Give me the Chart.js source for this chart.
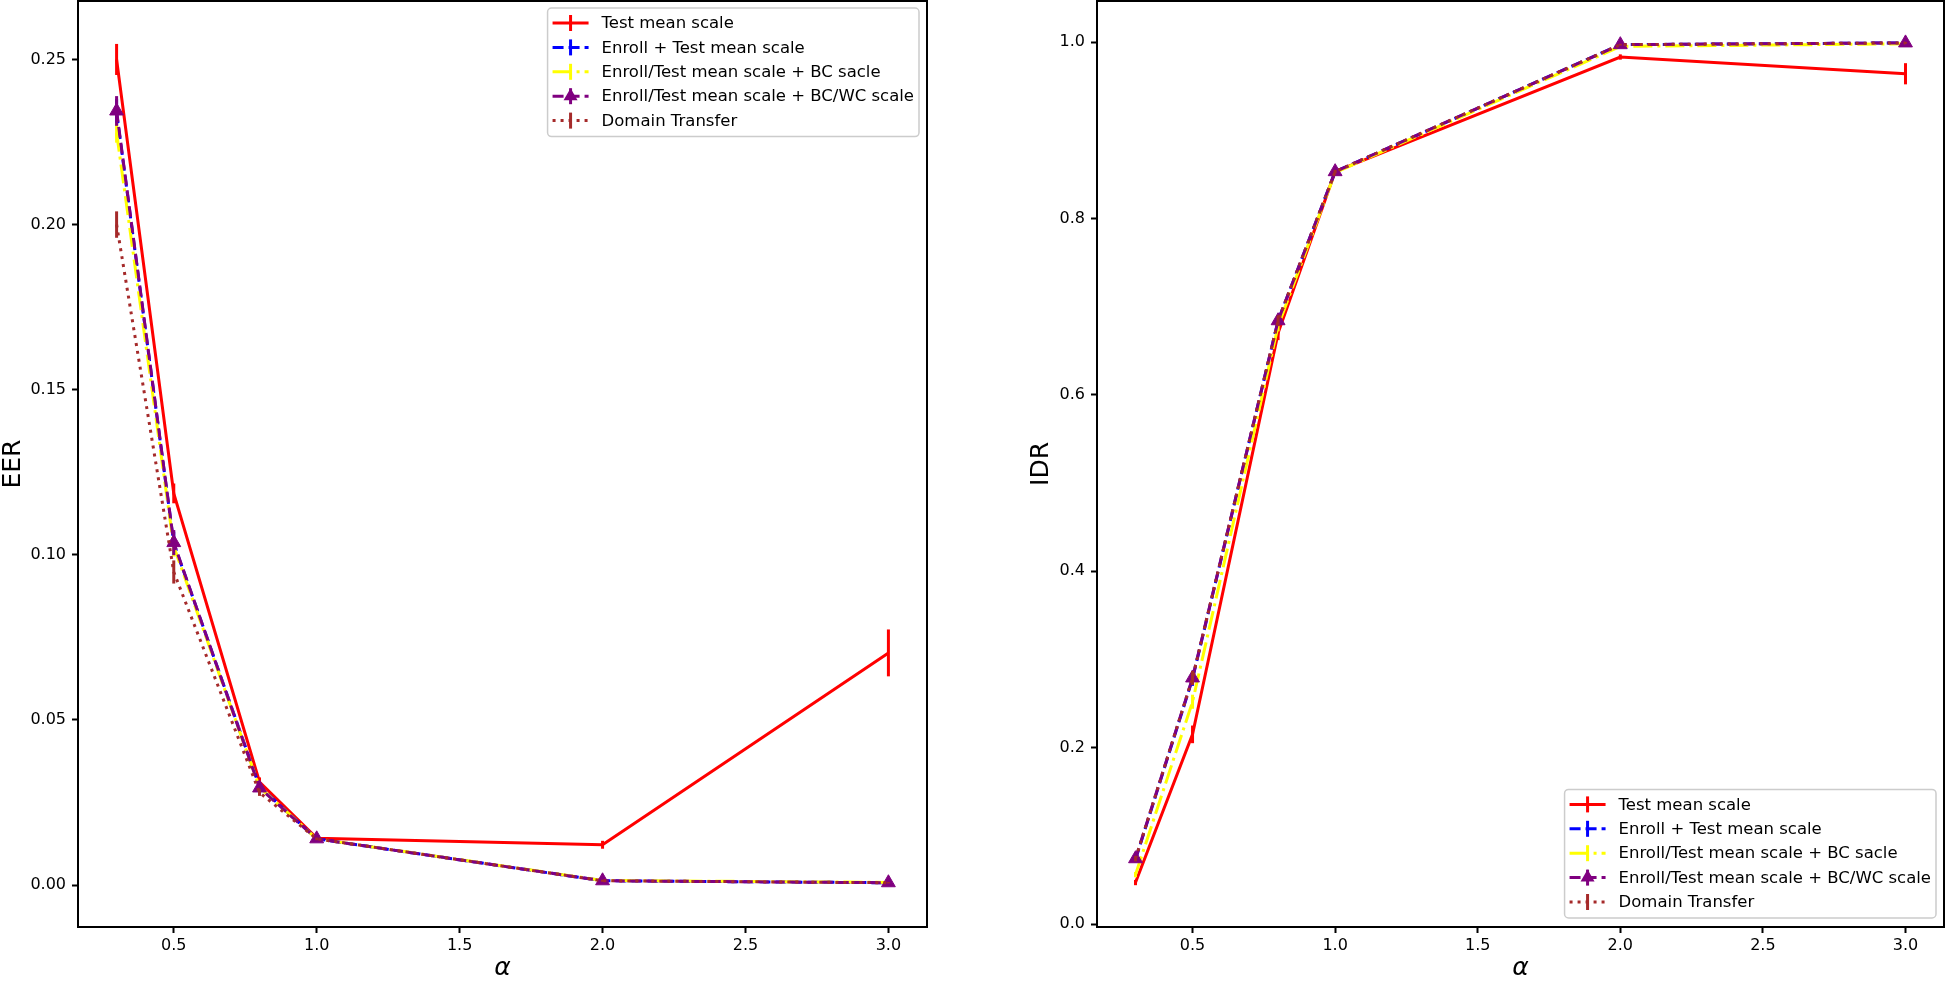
<!DOCTYPE html>
<html>
<head>
    <title>EER and IDR versus alpha</title>
    <script src="https://cdn.jsdelivr.net/npm/chart.js"></script>
    <style>
        body { margin: 0; background: #fff; width: 1946px; height: 981px; overflow: hidden; position: relative; }
        .box { position: absolute; top: 0; height: 981px; }
        #leftBox { left: 0; width: 940px; }
        #rightBox { left: 1028px; width: 918px; }
    </style>
</head>
<body>
    <div class="box" id="leftBox"><canvas id="eerChart"></canvas></div>
    <div class="box" id="rightBox"><canvas id="idrChart"></canvas></div>

    <script>
        // x values (alpha) and tick positions
        var alphaValues = [0.3, 0.5, 0.8, 1.0, 2.0, 3.0];
        var alphaTicks = [0.5, 1.0, 1.5, 2.0, 2.5, 3.0];
        var eerTicks = [0.00, 0.05, 0.10, 0.15, 0.20, 0.25];
        var idrTicks = [0.0, 0.2, 0.4, 0.6, 0.8, 1.0];

        var seriesNames = [
            'Test mean scale',
            'Enroll + Test mean scale',
            'Enroll/Test mean scale + BC sacle',
            'Enroll/Test mean scale + BC/WC scale',
            'Domain Transfer'
        ];

        // EER (left plot), values and error bar half heights
        var eerTestMean = [0.2500, 0.1186, 0.0312, 0.0142, 0.0122, 0.0703];
        var eerTestMeanErr = [0.0047, 0.0030, 0.0014, 0.0005, 0.0012, 0.0071];
        var eerEnrollTest = [0.2340, 0.1035, 0.0298, 0.0140, 0.0013, 0.0007];
        var eerEnrollTestErr = [0.0040, 0.0035, 0.0010, 0.0004, 0.0003, 0.0002];
        var eerBc = [0.2278, 0.1025, 0.0296, 0.0140, 0.0014, 0.0008];
        var eerBcErr = [0.0030, 0.0030, 0.0010, 0.0004, 0.0003, 0.0002];
        var eerBcWc = [0.2344, 0.1037, 0.0294, 0.0140, 0.0013, 0.0007];
        var eerBcWcErr = [0.0045, 0.0038, 0.0010, 0.0004, 0.0003, 0.0002];
        var eerDomain = [0.2000, 0.0948, 0.0280, 0.0140, 0.0013, 0.0007];
        var eerDomainErr = [0.0040, 0.0035, 0.0010, 0.0004, 0.0003, 0.0002];

        // IDR (right plot)
        var idrTestMean = [0.047, 0.215, 0.670, 0.853, 0.983, 0.964];
        var idrTestMeanErr = [0.003, 0.010, 0.008, 0.002, 0.003, 0.012];
        var idrEnrollTest = [0.073, 0.278, 0.684, 0.853, 0.997, 0.999];
        var idrEnrollTestErr = [0.003, 0.008, 0.006, 0.002, 0.001, 0.001];
        var idrBc = [0.056, 0.252, 0.678, 0.852, 0.995, 0.998];
        var idrBcErr = [0.003, 0.008, 0.006, 0.002, 0.001, 0.001];
        var idrBcWc = [0.074, 0.279, 0.684, 0.853, 0.997, 0.999];
        var idrBcWcErr = [0.003, 0.008, 0.006, 0.002, 0.001, 0.001];
        var idrDomain = [0.074, 0.279, 0.684, 0.853, 0.997, 0.999];
        var idrDomainErr = [0.003, 0.008, 0.006, 0.002, 0.001, 0.001];

        var colors = ['#ff0000', '#0000ff', '#ffff00', '#800080', '#a52a2a'];
        var dashes = [[], [11, 5], [19, 5, 3, 5], [11, 5], [3, 5]];
        var FONT = "'DejaVu Sans', sans-serif";

        function makeDatasets(valueLists, errLists) {
            return valueLists.map(function(vals, k) {
                return {
                    label: seriesNames[k],
                    data: vals.map(function(v, i) { return {x: alphaValues[i], y: v}; }),
                    errors: errLists[k],
                    borderColor: colors[k],
                    backgroundColor: colors[k],
                    borderWidth: 3,
                    borderDash: dashes[k],
                    borderCapStyle: 'butt',
                    tension: 0,
                    fill: false,
                    pointStyle: k === 3 ? 'triangle' : 'circle',
                    pointRadius: k === 3 ? 8 : 0,
                    pointBorderWidth: 1,
                    order: 5 - k
                };
            });
        }

        // vertical error bars, drawn under each line
        var errorBars = {
            id: 'errorBars',
            beforeDatasetDraw: function(chart, args) {
                var ds = chart.data.datasets[args.index];
                if (!ds.errors) return;
                var ctx = chart.ctx, yScale = chart.scales.y, area = chart.chartArea;
                ctx.save();
                ctx.beginPath();
                ctx.rect(area.left, area.top, area.right - area.left, area.bottom - area.top);
                ctx.clip();
                ctx.strokeStyle = ds.borderColor;
                ctx.lineWidth = 3;
                ctx.setLineDash([]);
                args.meta.data.forEach(function(pt, i) {
                    var v = ds.data[i].y, e = ds.errors[i];
                    ctx.beginPath();
                    ctx.moveTo(pt.x, yScale.getPixelForValue(v + e));
                    ctx.lineTo(pt.x, yScale.getPixelForValue(v - e));
                    ctx.stroke();
                });
                ctx.restore();
            }
        };

        // frame on all four sides + matplotlib style legend inside the axes
        var boxLegend = {
            id: 'boxLegend',
            afterDraw: function(chart, args, opts) {
                var ctx = chart.ctx, a = chart.chartArea;
                ctx.save();
                ctx.strokeStyle = '#000';
                ctx.lineWidth = 2;
                ctx.setLineDash([]);
                ctx.strokeRect(a.left, a.top, a.right - a.left, a.bottom - a.top);

                ctx.font = '16.5px ' + FONT;
                var textW = 0;
                seriesNames.forEach(function(n) { textW = Math.max(textW, ctx.measureText(n).width); });
                var rowH = 24.4;
                var w = 5 + 36 + 13 + textW + 5;
                var h = 15 + rowH * 4 + 16;
                var x = a.right - 8 - w;
                var y = opts.corner === 'lower right' ? a.bottom - 9 - h : a.top + 7;

                ctx.beginPath();
                ctx.roundRect(x, y, w, h, 4);
                ctx.fillStyle = 'rgba(255,255,255,0.8)';
                ctx.fill();
                ctx.strokeStyle = '#cccccc';
                ctx.lineWidth = 1.5;
                ctx.stroke();

                seriesNames.forEach(function(name, k) {
                    var ry = y + 15 + k * rowH;
                    var x0 = x + 5, cx = x0 + 18;
                    ctx.strokeStyle = colors[k];
                    ctx.fillStyle = colors[k];
                    ctx.lineWidth = 3;
                    ctx.lineCap = 'butt';
                    ctx.setLineDash(dashes[k]);
                    ctx.beginPath();
                    ctx.moveTo(x0, ry);
                    ctx.lineTo(x0 + 36, ry);
                    ctx.stroke();
                    ctx.setLineDash([]);
                    ctx.beginPath();
                    ctx.moveTo(cx, ry - 8);
                    ctx.lineTo(cx, ry + 8);
                    ctx.stroke();
                    if (k === 3) {
                        ctx.beginPath();
                        ctx.moveTo(cx, ry - 8);
                        ctx.lineTo(cx + 7, ry + 4);
                        ctx.lineTo(cx - 7, ry + 4);
                        ctx.closePath();
                        ctx.fill();
                    }
                    ctx.fillStyle = '#000';
                    ctx.textBaseline = 'middle';
                    ctx.textAlign = 'left';
                    ctx.fillText(name, x0 + 49, ry + 1);
                });
                ctx.restore();
            }
        };

        function noPad(s) {
            s.paddingTop = 0; s.paddingBottom = 0; s.paddingLeft = 0; s.paddingRight = 0;
        }

        function makeChart(canvasId, datasets, yTicks, yDigits, yMin, yMax, yTitle, yWidth, pad, corner) {
            var ctx = document.getElementById(canvasId).getContext('2d');
            return new Chart(ctx, {
                type: 'line',
                data: { datasets: datasets },
                plugins: [errorBars, boxLegend],
                options: {
                    responsive: true,
                    maintainAspectRatio: false,
                    animation: false,
                    layout: { padding: pad, autoPadding: false },
                    plugins: {
                        legend: { display: false },
                        tooltip: { enabled: false },
                        boxLegend: { corner: corner }
                    },
                    scales: {
                        x: {
                            type: 'linear',
                            min: 0.165,
                            max: 3.135,
                            afterFit: function(s) { s.height = 54; noPad(s); },
                            afterBuildTicks: function(s) { s.ticks = alphaTicks.map(function(v) { return {value: v}; }); },
                            ticks: {
                                color: '#000', font: {family: FONT, size: 16}, padding: 3,
                                autoSkip: false, maxRotation: 0,
                                callback: function(v) { return Number(v).toFixed(1); }
                            },
                            grid: { drawOnChartArea: false, drawTicks: true, tickLength: 6, tickWidth: 2, tickColor: '#000' },
                            border: { display: true, color: '#000', width: 2 },
                            title: { display: true, text: 'α', color: '#000', font: {family: FONT, size: 25, style: 'italic'}, padding: {top: 0, bottom: -2} }
                        },
                        y: {
                            type: 'linear',
                            min: yMin,
                            max: yMax,
                            afterFit: function(s) { s.width = yWidth; noPad(s); },
                            afterBuildTicks: function(s) { s.ticks = yTicks.map(function(v) { return {value: v}; }); },
                            ticks: {
                                color: '#000', font: {family: FONT, size: 16}, padding: 6,
                                autoSkip: false,
                                callback: function(v) { return Number(v).toFixed(yDigits); }
                            },
                            grid: { drawOnChartArea: false, drawTicks: true, tickLength: 6, tickWidth: 2, tickColor: '#000' },
                            border: { display: true, color: '#000', width: 2 },
                            title: { display: true, text: yTitle, color: '#000', font: {family: FONT, size: 25}, padding: {top: -2, bottom: 0} }
                        }
                    }
                }
            });
        }

        makeChart('eerChart',
            makeDatasets([eerTestMean, eerEnrollTest, eerBc, eerBcWc, eerDomain],
                         [eerTestMeanErr, eerEnrollTestErr, eerBcErr, eerBcWcErr, eerDomainErr]),
            eerTicks, 2, -0.0127, 0.2677, 'EER', 78,
            {top: 1, right: 13, bottom: 0, left: 0}, 'upper right');

        makeChart('idrChart',
            makeDatasets([idrTestMean, idrEnrollTest, idrBc, idrBcWc, idrDomain],
                         [idrTestMeanErr, idrEnrollTestErr, idrBcErr, idrBcWcErr, idrDomainErr]),
            idrTicks, 1, -0.0034, 1.0465, 'IDR', 69,
            {top: 1, right: 2, bottom: 0, left: 0}, 'lower right');
    </script>
</body>
</html>
